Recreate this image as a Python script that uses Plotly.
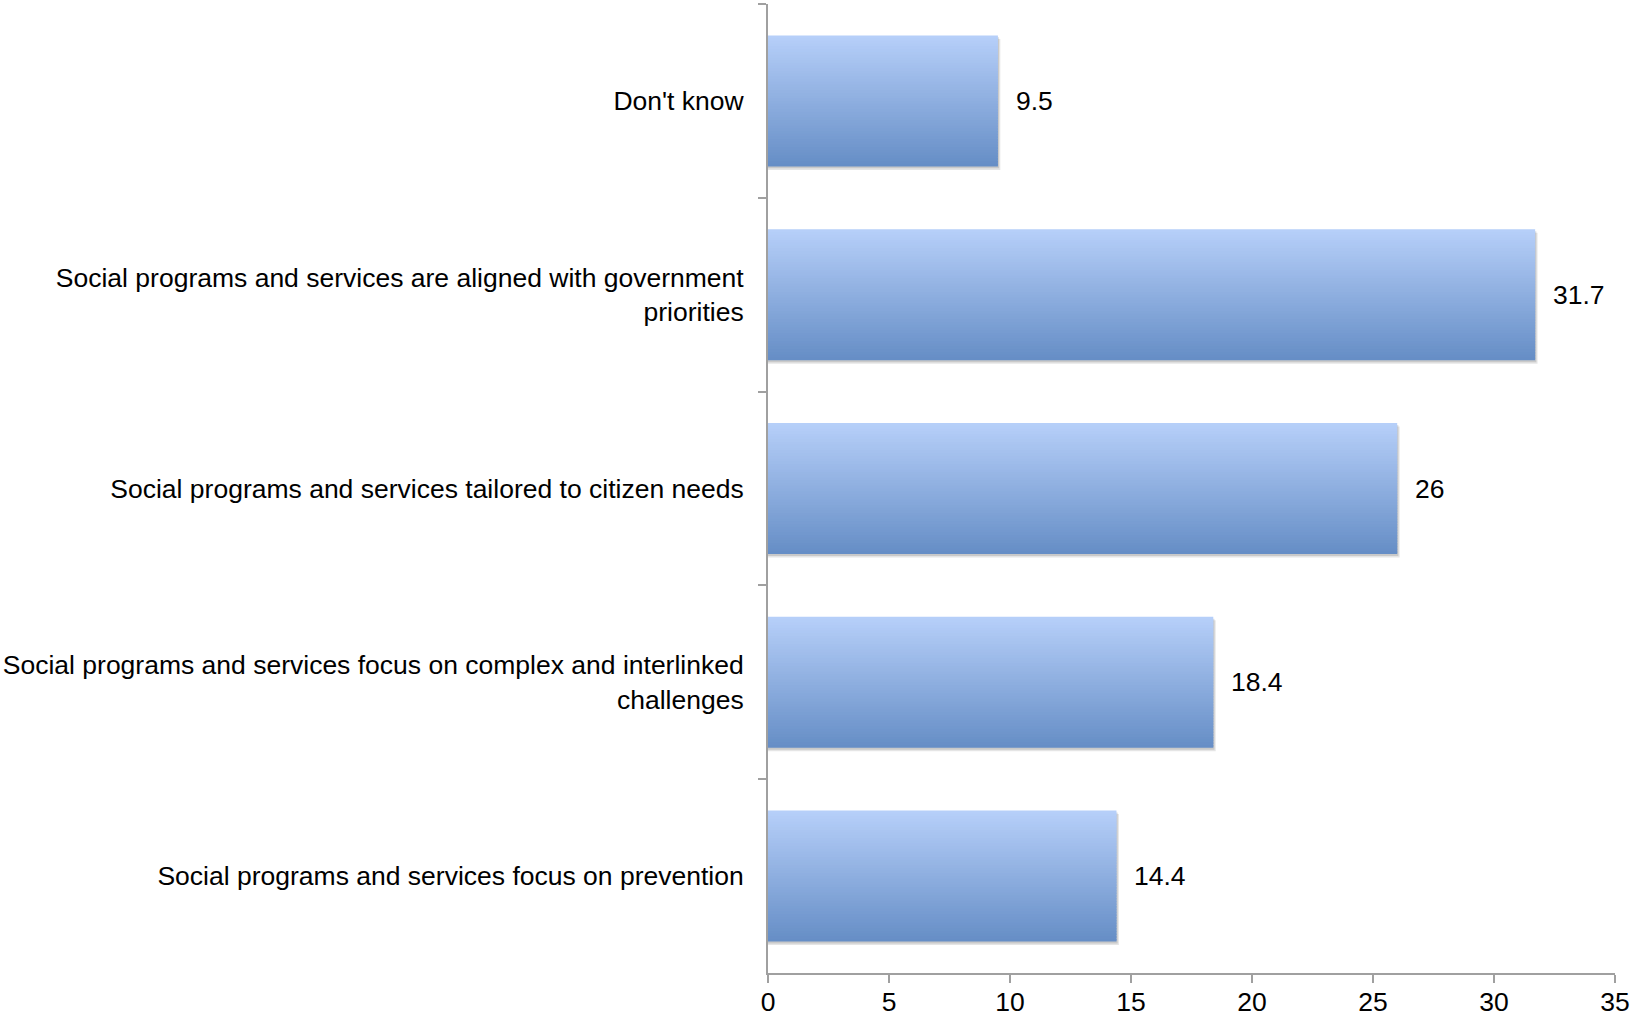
import plotly.graph_objects as go

# Survey responses, listed top to bottom as they appear on the chart
categories = [
    "Don't know",
    "Social programs and services are aligned with government<br>priorities",
    "Social programs and services tailored to citizen needs",
    "Social programs and services focus on complex and interlinked<br>challenges",
    "Social programs and services focus on prevention",
]
values = [9.5, 31.7, 26, 18.4, 14.4]
value_labels = ["9.5", "31.7", "26", "18.4", "14.4"]
x_ticks = [0, 5, 10, 15, 20, 25, 30, 35]

FONT = "Liberation Sans, Arial, Helvetica, sans-serif"
FONT_SIZE = 26.5
BAR_W = 0.676          # bar thickness in category units
TOP_RGB = (182, 207, 249)
BOT_RGB = (102, 142, 198)
N_SLICES = 48

fig = go.Figure()

# soft drop shadow under each bar
for dx, dy, alpha in [(0.10, 0.018, 0.10), (0.05, 0.010, 0.12)]:
    fig.add_trace(go.Bar(
        y=categories, x=[v + dx for v in values], orientation="h",
        offset=-BAR_W / 2 + dy, width=BAR_W,
        marker=dict(color=f"rgba(0,0,0,{alpha})", line=dict(width=0)),
        hoverinfo="skip", showlegend=False,
    ))

# vertical gradient fill built from thin stacked bar bands
dh = BAR_W / N_SLICES
for i in range(N_SLICES):
    t = i / (N_SLICES - 1)
    r, g, b = (round(a + (c - a) * t) for a, c in zip(TOP_RGB, BOT_RGB))
    w = dh * 1.6 if i < N_SLICES - 1 else dh
    fig.add_trace(go.Bar(
        y=categories, x=values, orientation="h",
        offset=-BAR_W / 2 + i * dh, width=w,
        marker=dict(color=f"rgb({r},{g},{b})", line=dict(width=0)),
        hoverinfo="skip", showlegend=False,
    ))

# value labels to the right of each bar
for cat, v, lab in zip(categories, values, value_labels):
    fig.add_annotation(
        x=v, y=cat, text=lab, showarrow=False,
        xanchor="left", yanchor="middle", xshift=16,
        font=dict(family=FONT, size=FONT_SIZE, color="#000000"),
    )

axis_color = "#a0a0a0"
fig.update_layout(
    width=1635, height=1019,
    margin=dict(l=768, r=20, t=4, b=46, autoexpand=False),
    paper_bgcolor="white", plot_bgcolor="white",
    barmode="overlay",
    font=dict(family=FONT, size=FONT_SIZE, color="#000000"),
    xaxis=dict(
        range=[0, 35], tickvals=x_ticks, ticktext=[str(t) for t in x_ticks],
        showgrid=False, zeroline=False, automargin=False,
        showline=True, linecolor=axis_color, linewidth=2,
        ticks="outside", ticklen=8, tickwidth=2, tickcolor=axis_color,
        tickfont=dict(size=FONT_SIZE), ticklabelstandoff=-4,
    ),
    yaxis=dict(
        type="category", categoryorder="array", categoryarray=categories,
        range=[4.5, -0.5], automargin=False,
        showgrid=False, zeroline=False,
        showline=True, linecolor=axis_color, linewidth=2,
        ticks="outside", ticklen=8, tickwidth=2, tickcolor=axis_color,
        tickson="boundaries",
        tickfont=dict(size=FONT_SIZE), ticklabelstandoff=17,
    ),
)

fig.write_html("out.html")
